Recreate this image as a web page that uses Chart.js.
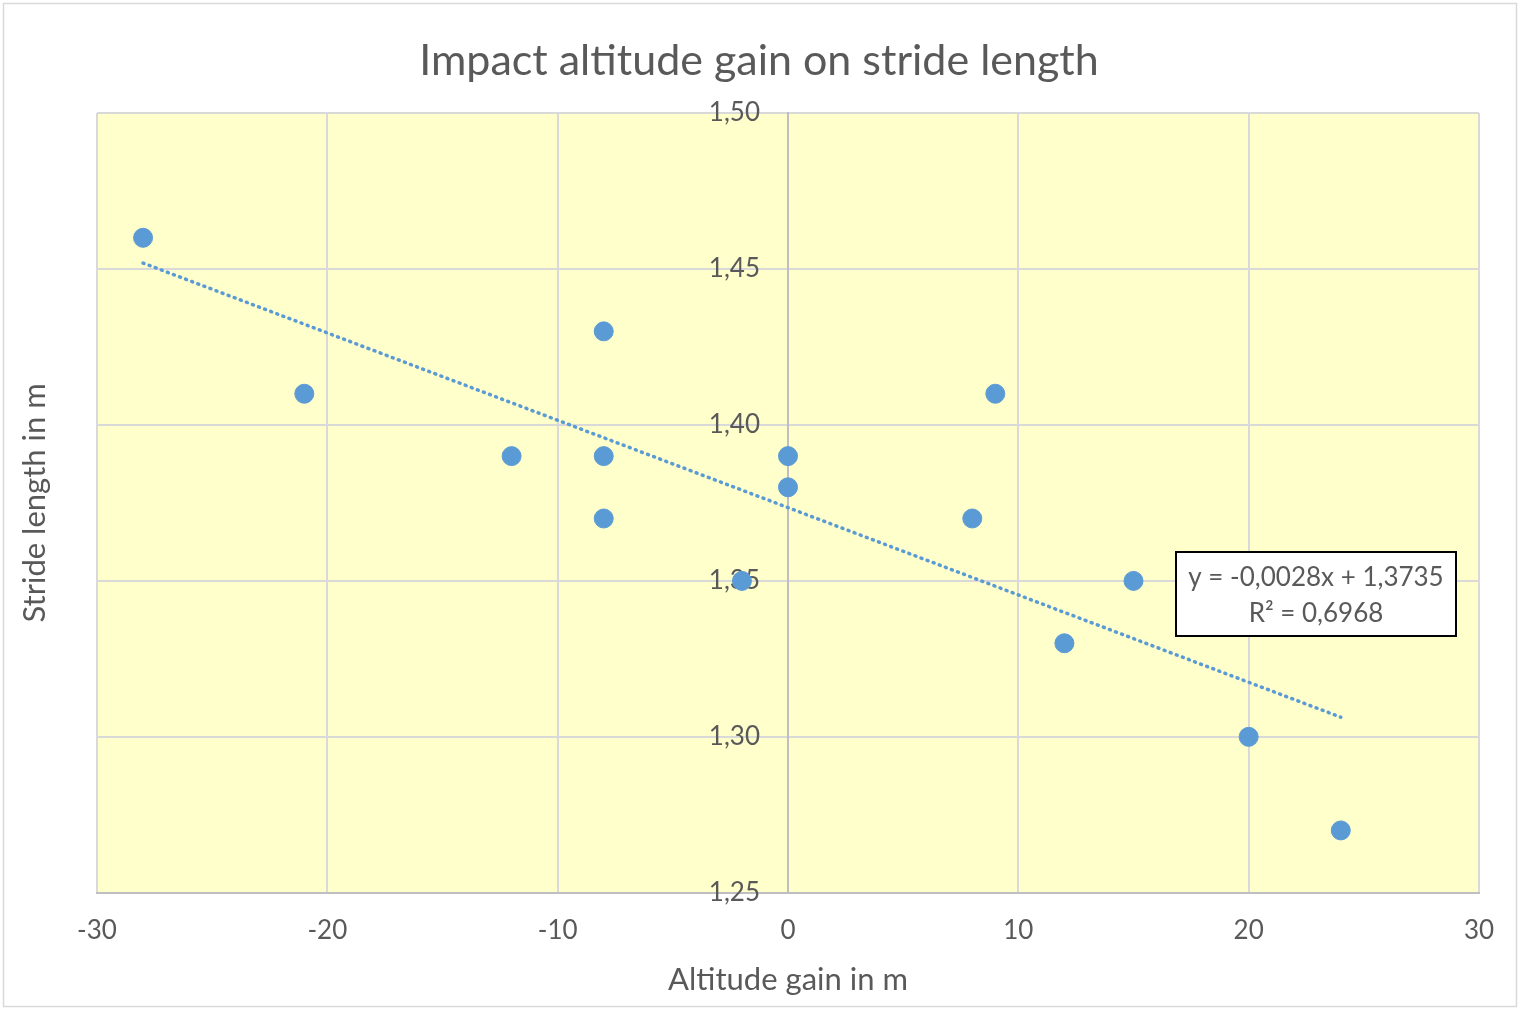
<!DOCTYPE html>
<html>
<head>
<meta charset="utf-8">
<title>Impact altitude gain on stride length</title>
<script src="https://cdn.jsdelivr.net/npm/chart.js@4"></script>
<style>
  html, body { margin: 0; padding: 0; background: #fff; }
  #wrap { width: 1520px; height: 1010px; position: relative; }
</style>
</head>
<body>
<div id="wrap"><canvas id="strideChart"></canvas></div>
<script>
  const altitudeGain = [-28, -21, -12, -8, -8, -8, -2, 0, 0, 8, 9, 12, 15, 20, 24];
  const strideLength = [1.46, 1.41, 1.39, 1.43, 1.39, 1.37, 1.35, 1.39, 1.38, 1.37, 1.41, 1.33, 1.35, 1.30, 1.27];
  const xTicks = [-30, -20, -10, 0, 10, 20, 30];
  const yTicks = [1.25, 1.30, 1.35, 1.40, 1.45, 1.50];
  const trendSlope = -0.0028;
  const trendIntercept = 1.3735;
  const rSquared = '0,6968';

  const textColor = '#595959';
  const gridColor = '#D9D9D9';
  const pointColor = '#5B9BD5';
  const fontFamily = 'Lato, "Open Sans", sans-serif';

  const comma = (v, d) => v.toFixed(d).replace('.', ',');

  const scatterData = altitudeGain.map((x, i) => ({x: x, y: strideLength[i]}));
  const xMin = Math.min(...altitudeGain);
  const xMax = Math.max(...altitudeGain);
  const trendData = [xMin, xMax].map(x => ({x: x, y: trendIntercept + trendSlope * x}));

  const decorations = {
    id: 'decorations',
    beforeDraw(chart) {
      const {ctx, chartArea: a} = chart;
      ctx.save();
      ctx.fillStyle = '#FFFFCC';
      ctx.fillRect(a.left, a.top, a.right - a.left, a.bottom - a.top);
      ctx.restore();
    },
    afterDatasetsDraw(chart) {
      const {ctx} = chart;
      ctx.save();
      // equation label
      const bx = 1176, by = 552, bw = 280, bh = 84;
      ctx.fillStyle = '#fff';
      ctx.fillRect(bx, by, bw, bh);
      ctx.strokeStyle = '#000';
      ctx.lineWidth = 2;
      ctx.strokeRect(bx, by, bw, bh);
      ctx.fillStyle = textColor;
      ctx.font = `26px ${fontFamily}`;
      ctx.textAlign = 'center';
      ctx.textBaseline = 'middle';
      ctx.fillText(`y = ${comma(trendSlope, 4)}x + ${comma(trendIntercept, 4)}`, bx + bw / 2, by + 26);
      ctx.fillText(`R² = ${rSquared}`, bx + bw / 2, by + 62);
      ctx.restore();
    },
    afterDraw(chart) {
      const {ctx, chartArea: a} = chart;
      ctx.save();
      ctx.fillStyle = textColor;
      ctx.textAlign = 'center';
      ctx.textBaseline = 'middle';
      ctx.font = `43px ${fontFamily}`;
      ctx.fillText('Impact altitude gain on stride length', 759, 61);
      ctx.font = `31px ${fontFamily}`;
      ctx.fillText('Altitude gain in m', (a.left + a.right) / 2, 980);
      ctx.translate(35, (a.top + a.bottom) / 2);
      ctx.rotate(-Math.PI / 2);
      ctx.fillText('Stride length in m', 0, 0);
      ctx.restore();
      ctx.save();
      ctx.strokeStyle = gridColor;
      ctx.lineWidth = 1.5;
      ctx.strokeRect(3.5, 3.5, 1513, 1003);
      ctx.restore();
    }
  };

  const ctx = document.getElementById('strideChart').getContext('2d');
  new Chart(ctx, {
    data: {
      datasets: [{
        type: 'line',
        data: trendData,
        borderColor: pointColor,
        borderWidth: 3.5,
        borderDash: [1, 5.5],
        borderCapStyle: 'round',
        pointRadius: 0,
        fill: false
      }, {
        type: 'scatter',
        data: scatterData,
        backgroundColor: pointColor,
        borderColor: pointColor,
        pointRadius: 9.5,
        pointHoverRadius: 9.5
      }]
    },
    options: {
      responsive: true,
      maintainAspectRatio: false,
      animation: false,
      layout: {
        padding: {top: 113, left: 97, right: 41, bottom: 42}
      },
      scales: {
        x: {
          type: 'linear',
          min: xTicks[0],
          max: xTicks[xTicks.length - 1],
          afterBuildTicks: axis => { axis.ticks = xTicks.map(v => ({value: v})); },
          grid: {color: gridColor, lineWidth: 2, drawTicks: false},
          border: {color: '#BFBFBF', width: 2},
          ticks: {color: textColor, font: {size: 26, family: fontFamily}, padding: 22}
        },
        y: {
          type: 'linear',
          position: 'center',
          min: yTicks[0],
          max: yTicks[yTicks.length - 1],
          afterBuildTicks: axis => { axis.ticks = yTicks.map(v => ({value: v})); },
          grid: {color: gridColor, lineWidth: 2, drawTicks: false},
          border: {color: '#BFBFBF', width: 2},
          ticks: {
            color: textColor,
            font: {size: 26, family: fontFamily},
            padding: 28,
            callback: v => comma(v, 2)
          }
        }
      },
      plugins: {
        legend: {display: false},
        title: {display: false},
        tooltip: {enabled: false}
      }
    },
    plugins: [decorations]
  });
</script>
</body>
</html>
